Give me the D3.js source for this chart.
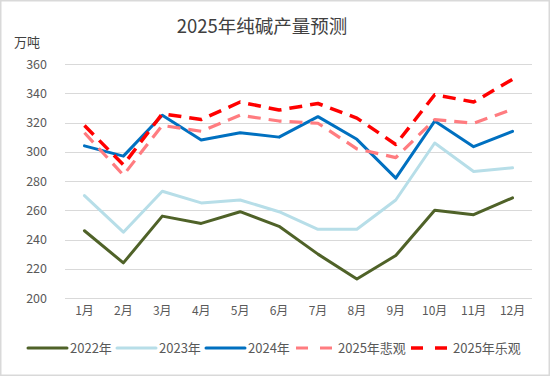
<!DOCTYPE html>
<html>
<head>
<meta charset="utf-8">
<script src="https://cdn.jsdelivr.net/npm/d3@7"></script>
<style>
  html, body { margin: 0; padding: 0; background: #fff; }
  svg text { font-family: "Noto Sans CJK SC", "Noto Sans", sans-serif; }
</style>
</head>
<body>
<div id="chart"></div>
<script>
// 2025年纯碱产量预测 — monthly soda ash output, 万吨

const MONTHS = ["1月", "2月", "3月", "4月", "5月", "6月", "7月", "8月", "9月", "10月", "11月", "12月"];
const Y_TICKS = [200, 220, 240, 260, 280, 300, 320, 340, 360];

const SERIES_NAMES = ["2022年", "2023年", "2024年", "2025年悲观", "2025年乐观"];
const V2022 = [246, 224, 256, 251, 259, 249, 230, 213, 229, 260, 257, 268.5];
const V2023 = [270, 245, 273, 265, 267, 259, 247, 247, 267, 306, 286.5, 289];
const V2024 = [304, 297, 325, 308, 313, 310, 324, 308.5, 282, 321, 303.5, 314];
const V2025_LOW = [313, 284, 318, 314, 325, 321, 319.5, 302, 296, 322, 319.5, 329];
const V2025_HIGH = [318, 291, 326, 322, 334, 328.5, 333, 323, 305, 339, 334, 349.5];

const styles = [
  { color: "#4f6228", width: 3, dash: null },
  { color: "#b7dee8", width: 3, dash: null },
  { color: "#0070c0", width: 3, dash: null },
  { color: "#ff7c80", width: 3.2, dash: "13,8" },
  { color: "#ff0000", width: 3.5, dash: "13,8" },
];

const series = [V2022, V2023, V2024, V2025_LOW, V2025_HIGH].map((v, i) => ({
  name: SERIES_NAMES[i], values: v, ...styles[i]
}));

const W = 550, H = 376;
const svg = d3.select("#chart").append("svg").attr("width", W).attr("height", H);

// outer frame
svg.append("rect")
  .attr("x", 0.75).attr("y", 0.75).attr("width", W - 1.5).attr("height", H - 1.5)
  .attr("fill", "#fff").attr("stroke", "#d9d9d9").attr("stroke-width", 1.5);

const plot = { left: 65, right: 532, top: 64, bottom: 298 };

const x = d3.scaleBand().domain(MONTHS).range([plot.left, plot.right]);
const y = d3.scaleLinear().domain([200, 360]).range([plot.bottom, plot.top]);

// title + unit
svg.append("text")
  .attr("x", 262).attr("y", 33)
  .attr("text-anchor", "middle")
  .attr("font-size", 18.5).attr("fill", "#404040")
  .text("2025年纯碱产量预测");

svg.append("text")
  .attr("x", 14).attr("y", 47)
  .attr("font-size", 13).attr("fill", "#404040")
  .text("万吨");

// grid
svg.append("g")
  .selectAll("line")
  .data(Y_TICKS)
  .join("line")
  .attr("x1", plot.left).attr("x2", plot.right)
  .attr("y1", d => Math.round(y(d)) + 0.5).attr("y2", d => Math.round(y(d)) + 0.5)
  .attr("stroke", "#d9d9d9").attr("stroke-width", 1);

// y axis labels
const yAxis = svg.append("g")
  .attr("transform", `translate(${plot.left - 18},0)`)
  .call(d3.axisLeft(y).tickValues(Y_TICKS).tickSize(0).tickPadding(0));
yAxis.select(".domain").remove();
yAxis.selectAll("text").attr("font-size", 12.5).attr("fill", "#595959")
  .attr("font-family", "\"Noto Sans CJK SC\", sans-serif");

// x axis labels
const xAxis = svg.append("g")
  .attr("transform", `translate(0,${plot.bottom + 8})`)
  .call(d3.axisBottom(x).tickSize(0).tickPadding(0));
xAxis.select(".domain").remove();
xAxis.selectAll("text").attr("font-size", 12).attr("fill", "#595959")
  .attr("font-family", "\"Noto Sans CJK SC\", sans-serif");

// lines
const line = d3.line()
  .x((d, i) => x(MONTHS[i]) + x.bandwidth() / 2)
  .y(d => y(d));

svg.append("g")
  .selectAll("path")
  .data(series)
  .join("path")
  .attr("d", d => line(d.values))
  .attr("fill", "none")
  .attr("stroke", d => d.color)
  .attr("stroke-width", d => d.width)
  .attr("stroke-dasharray", d => d.dash)
  .attr("stroke-linejoin", "round")
  .attr("stroke-linecap", d => d.dash ? "butt" : "round");

// legend
const legendX = [28, 117, 206, 296, 411];
const legend = svg.append("g")
  .selectAll("g")
  .data(series)
  .join("g")
  .attr("transform", (d, i) => `translate(${legendX[i]},348)`);

legend.append("line")
  .attr("x1", 0).attr("x2", 39)
  .attr("stroke", d => d.color)
  .attr("stroke-width", d => d.width)
  .attr("stroke-dasharray", d => d.dash ? "12,12" : null)
  .attr("stroke-linecap", d => d.dash ? "butt" : "round");

legend.append("text")
  .attr("x", 42).attr("y", 4.5)
  .attr("font-size", 13).attr("fill", "#595959")
  .text(d => d.name);
</script>
</body>
</html>
